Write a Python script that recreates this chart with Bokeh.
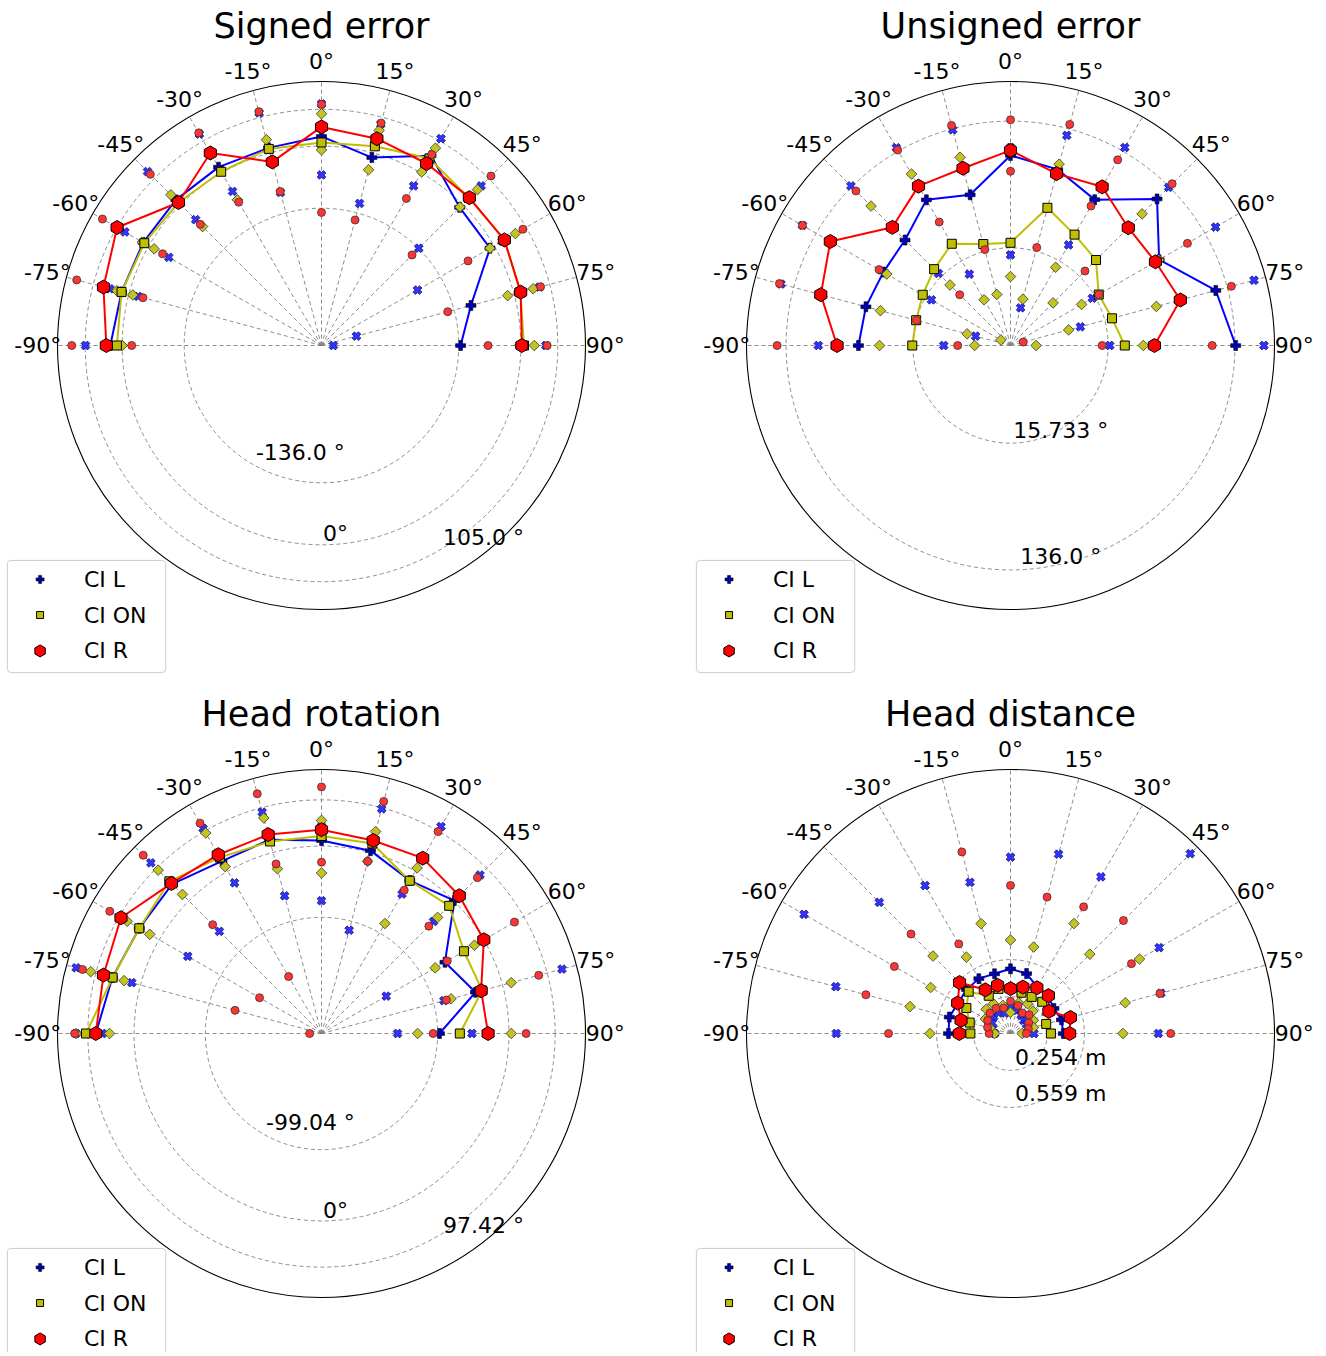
import numpy as np
from bokeh.plotting import figure
from bokeh.models import Range1d
from bokeh.layouts import gridplot
from bokeh.core.properties import value
from bokeh.embed import file_html
from bokeh.resources import INLINE

# ---------------- data (radial values, 1 = outer circle) ----------------
ANGLES = [-90, -75, -60, -45, -30, -15, 0, 15, 30, 45, 60, 75, 90]
SERIES = ["CI L", "CI ON", "CI R"]

# Signed error
SE_L_MED = [0.800, 0.784, 0.780, 0.780, 0.780, 0.775, 0.792, 0.737, 0.830, 0.740, 0.737, 0.586, 0.527]
SE_L_LO = [0.770, 0.719, 0.668, 0.674, 0.674, 0.600, 0.646, 0.557, 0.698, 0.521, 0.420, 0.137, 0.045]
SE_L_HI = [0.894, 0.830, 0.860, 0.932, 0.925, 0.912, 0.915, 0.868, 0.905, 0.855, 0.790, 0.855, 0.850]
SE_ON_MED = [0.775, 0.784, 0.775, 0.766, 0.760, 0.771, 0.769, 0.781, 0.818, 0.790, 0.800, 0.780, 0.767]
SE_ON_LO = [0.755, 0.740, 0.732, 0.637, 0.637, 0.720, 0.741, 0.689, 0.759, 0.742, 0.737, 0.730, 0.750]
SE_ON_HI = [0.800, 0.802, 0.783, 0.807, 0.840, 0.807, 0.878, 0.843, 0.863, 0.835, 0.848, 0.830, 0.806]
SE_R_MED = [0.815, 0.855, 0.894, 0.766, 0.842, 0.720, 0.828, 0.811, 0.796, 0.792, 0.800, 0.781, 0.759]
SE_R_LO = [0.719, 0.700, 0.695, 0.649, 0.627, 0.604, 0.504, 0.492, 0.643, 0.485, 0.641, 0.495, 0.631]
SE_R_HI = [0.946, 0.960, 0.958, 0.917, 0.930, 0.917, 0.913, 0.872, 0.835, 0.908, 0.881, 0.859, 0.855]
SE_RINGS = [0.52, 0.755, 0.895]
SE_RING_LABELS = ["-136.0 °", "0°", "105.0 °"]

# Unsigned error
UE_L_MED = [0.576, 0.567, 0.556, 0.565, 0.637, 0.591, 0.720, 0.690, 0.638, 0.785, 0.650, 0.805, 0.853]
UE_L_LO = [0.253, 0.137, 0.346, 0.386, 0.312, 0.400, 0.343, 0.148, 0.440, 0.460, 0.358, 0.274, 0.376]
UE_L_HI = [0.728, 0.900, 0.910, 0.855, 0.865, 0.846, 0.750, 0.824, 0.866, 0.847, 0.897, 0.955, 0.960]
UE_ON_MED = [0.372, 0.370, 0.384, 0.409, 0.445, 0.398, 0.389, 0.540, 0.485, 0.458, 0.386, 0.398, 0.433]
UE_ON_LO = [0.136, 0.170, 0.042, 0.324, 0.200, 0.200, 0.261, 0.182, 0.342, 0.228, 0.311, 0.228, 0.097]
UE_ON_HI = [0.496, 0.510, 0.541, 0.747, 0.750, 0.738, 0.739, 0.711, 0.700, 0.705, 0.649, 0.572, 0.503]
UE_R_MED = [0.657, 0.744, 0.788, 0.633, 0.697, 0.695, 0.739, 0.674, 0.694, 0.631, 0.634, 0.666, 0.545]
UE_R_LO = [0.200, 0.368, 0.575, 0.272, 0.540, 0.376, 0.660, 0.384, 0.610, 0.399, 0.386, 0.050, 0.347]
UE_R_HI = [0.884, 0.906, 0.910, 0.828, 0.855, 0.863, 0.855, 0.867, 0.812, 0.866, 0.774, 0.866, 0.764]
UE_RINGS = [0.37, 0.85]
UE_RING_LABELS = ["15.733 °", "136.0 °"]

# Head rotation
HR_L_MED = [0.855, 0.820, 0.797, 0.800, 0.754, 0.760, 0.731, 0.717, 0.669, 0.712, 0.540, 0.604, 0.447]
HR_L_LO = [0.830, 0.744, 0.585, 0.547, 0.659, 0.540, 0.503, 0.405, 0.610, 0.600, 0.283, 0.480, 0.288]
HR_L_HI = [0.930, 0.962, 0.880, 0.914, 0.897, 0.868, 0.800, 0.881, 0.905, 0.849, 0.710, 0.943, 0.570]
HR_ON_MED = [0.892, 0.819, 0.797, 0.815, 0.770, 0.753, 0.748, 0.745, 0.668, 0.684, 0.623, 0.630, 0.524]
HR_ON_LO = [0.803, 0.774, 0.751, 0.745, 0.730, 0.646, 0.608, 0.675, 0.481, 0.622, 0.497, 0.508, 0.364]
HR_ON_HI = [0.930, 0.905, 0.850, 0.875, 0.877, 0.845, 0.807, 0.792, 0.724, 0.740, 0.669, 0.744, 0.719]
HR_R_MED = [0.855, 0.855, 0.877, 0.804, 0.782, 0.780, 0.772, 0.757, 0.767, 0.738, 0.710, 0.626, 0.631]
HR_R_LO = [0.045, 0.339, 0.271, 0.583, 0.249, 0.665, 0.649, 0.675, 0.627, 0.575, 0.550, 0.490, 0.423]
HR_R_HI = [0.935, 0.937, 0.926, 0.955, 0.920, 0.940, 0.934, 0.910, 0.883, 0.835, 0.844, 0.852, 0.775]
HR_RINGS = [0.44, 0.71, 0.885]
HR_RING_LABELS = ["-99.04 °", "0°", "97.42 °"]

# Head distance
HD_L_MED = [0.235, 0.240, 0.230, 0.235, 0.240, 0.234, 0.245, 0.235, 0.203, 0.200, 0.190, 0.200, 0.200]
HD_L_LO = [0.060, 0.070, 0.080, 0.090, 0.090, 0.080, 0.100, 0.090, 0.080, 0.070, 0.070, 0.080, 0.089]
HD_L_HI = [0.660, 0.685, 0.903, 0.703, 0.647, 0.593, 0.668, 0.703, 0.685, 0.963, 0.650, 0.590, 0.560]
HD_ON_MED = [0.152, 0.160, 0.193, 0.224, 0.165, 0.175, 0.170, 0.160, 0.160, 0.170, 0.170, 0.140, 0.153]
HD_ON_LO = [0.060, 0.080, 0.110, 0.130, 0.130, 0.110, 0.080, 0.120, 0.130, 0.120, 0.100, 0.090, 0.044]
HD_ON_HI = [0.305, 0.394, 0.349, 0.415, 0.334, 0.431, 0.354, 0.339, 0.481, 0.425, 0.564, 0.450, 0.426]
HD_R_MED = [0.194, 0.194, 0.231, 0.273, 0.191, 0.189, 0.170, 0.182, 0.200, 0.203, 0.168, 0.235, 0.224]
HD_R_LO = [0.081, 0.090, 0.100, 0.110, 0.110, 0.100, 0.122, 0.110, 0.090, 0.100, 0.080, 0.070, 0.060]
HD_R_HI = [0.462, 0.567, 0.508, 0.533, 0.392, 0.712, 0.561, 0.535, 0.554, 0.605, 0.529, 0.586, 0.607]
HD_RINGS = [0.14, 0.28]
HD_RING_LABELS = ["0.254 m", "0.559 m"]

# ---------------- styling ----------------
PX = 264.0
FONT = value("DejaVu Sans")
GRID_C = "#808080"

STYLE = {
    "CI L": dict(line="#0000ff",
                 med=dict(marker="plus", size=10, fill_color="#0000b0", line_color="black", line_width=0.6, angle=0.0),
                 ci=dict(marker="plus", size=9, fill_color="#3333ff", line_color="#000060", line_width=0.7, angle=np.pi / 4)),
    "CI ON": dict(line="#bfbf00",
                  med=dict(marker="square", size=9, fill_color="#bfbf00", line_color="black", line_width=1.0, angle=0.0),
                  ci=dict(marker="square", size=7.5, fill_color="#c4c420", line_color="#333333", line_width=0.8, angle=np.pi / 4)),
    "CI R": dict(line="#ff0000",
                 med=dict(marker="hex", size=14, fill_color="#ff0000", line_color="black", line_width=1.0, angle=np.pi / 6),
                 ci=dict(marker="circle", size=8, fill_color="#ff3333", line_color="#333333", line_width=0.8, angle=0.0)),
}
LEGEND_SIZES = {"CI L": 8, "CI ON": 7, "CI R": 12}


def polar(r, ang):
    t = np.deg2rad(np.asarray(ang, dtype=float))
    r = np.asarray(r, dtype=float)
    return r * np.sin(t), r * np.cos(t)


def panel(title, w, h, cx_px, cy_px, rings, ring_labels, label_pos, series_data):
    p = figure(width=w, height=h,
               x_range=Range1d(-cx_px / PX, (w - cx_px) / PX),
               y_range=Range1d(-(h - cy_px) / PX, cy_px / PX),
               output_backend="svg", toolbar_location=None,
               x_axis_location=None, y_axis_location=None,
               min_border=0, title=None)
    p.grid.visible = False
    p.outline_line_color = None
    p.background_fill_color = "white"

    # spokes
    sx, sy = polar([1.0] * len(ANGLES), ANGLES)
    p.segment(x0=0, y0=0, x1=sx, y1=sy, line_color=GRID_C, line_dash="4 3", line_width=0.9)
    # rings
    p.circle(x=[0] * len(rings), y=[0] * len(rings), radius=rings, fill_color=None,
             line_color=GRID_C, line_dash="4 3", line_width=0.9)
    p.circle(x=[0], y=[0], radius=[1.0], fill_color=None, line_color="black", line_width=1.1)

    # angle labels
    lx, ly = polar([1.075] * len(ANGLES), ANGLES)
    p.text(x=lx, y=ly, text=[f"{a}°" for a in ANGLES], text_font=FONT, text_font_size="22px",
           text_align="center", text_baseline="middle", text_color="black")

    # ring labels
    p.text(x=[q[0] for q in label_pos], y=[q[1] for q in label_pos], text=ring_labels,
           text_font=FONT, text_font_size="22px", text_align="center", text_baseline="middle",
           text_color="black")

    # title
    p.text(x=[0], y=[1.212], text=[title], text_font=FONT, text_font_size="35px",
           text_align="center", text_baseline="middle", text_color="black")

    # data
    for name in SERIES:
        med, lo, hi = series_data[name]
        st = STYLE[name]
        mx, my = polar(med, ANGLES)
        p.line(mx, my, line_color=st["line"], line_width=2)
        lox, loy = polar(lo, ANGLES)
        hix, hiy = polar(hi, ANGLES)
        p.scatter(np.concatenate([lox, hix]), np.concatenate([loy, hiy]), **st["ci"])
        p.scatter(mx, my, **st["med"])

    # legend
    p.quad(left=[-1.19], right=[-0.59], top=[-0.814], bottom=[-1.239],
           fill_color="white", fill_alpha=0.85, line_color="#cccccc", line_width=1, border_radius=4)
    ys = [-0.886, -1.021, -1.157]
    for name, yy in zip(SERIES, ys):
        st = dict(STYLE[name]["med"])
        st["size"] = LEGEND_SIZES[name]
        p.scatter([-1.066], [yy], **st)
    p.text(x=[-0.90] * 3, y=ys, text=SERIES, text_font=FONT, text_font_size="22px",
           text_align="left", text_baseline="middle", text_color="black")
    return p


TOP_H, BOT_H = 686, 666
p1 = panel("Signed error", 663, TOP_H, 321, 345, SE_RINGS, SE_RING_LABELS,
           [(-0.08, -0.405), (0.053, -0.712), (0.614, -0.727)],
           {"CI L": (SE_L_MED, SE_L_LO, SE_L_HI), "CI ON": (SE_ON_MED, SE_ON_LO, SE_ON_HI),
            "CI R": (SE_R_MED, SE_R_LO, SE_R_HI)})
p2 = panel("Unsigned error", 660, TOP_H, 347, 345, UE_RINGS, UE_RING_LABELS,
           [(0.19, -0.322), (0.19, -0.80)],
           {"CI L": (UE_L_MED, UE_L_LO, UE_L_HI), "CI ON": (UE_ON_MED, UE_ON_LO, UE_ON_HI),
            "CI R": (UE_R_MED, UE_R_LO, UE_R_HI)})
p3 = panel("Head rotation", 663, BOT_H, 321, 1033 - TOP_H, HR_RINGS, HR_RING_LABELS,
           [(-0.042, -0.337), (0.053, -0.67), (0.614, -0.727)],
           {"CI L": (HR_L_MED, HR_L_LO, HR_L_HI), "CI ON": (HR_ON_MED, HR_ON_LO, HR_ON_HI),
            "CI R": (HR_R_MED, HR_R_LO, HR_R_HI)})
p4 = panel("Head distance", 660, BOT_H, 347, 1033 - TOP_H, HD_RINGS, HD_RING_LABELS,
           [(0.19, -0.091), (0.19, -0.227)],
           {"CI L": (HD_L_MED, HD_L_LO, HD_L_HI), "CI ON": (HD_ON_MED, HD_ON_LO, HD_ON_HI),
            "CI R": (HD_R_MED, HD_R_LO, HD_R_HI)})

grid = gridplot([[p1, p2], [p3, p4]], toolbar_location=None)

open("out.html", "w").write(file_html(grid, INLINE))
